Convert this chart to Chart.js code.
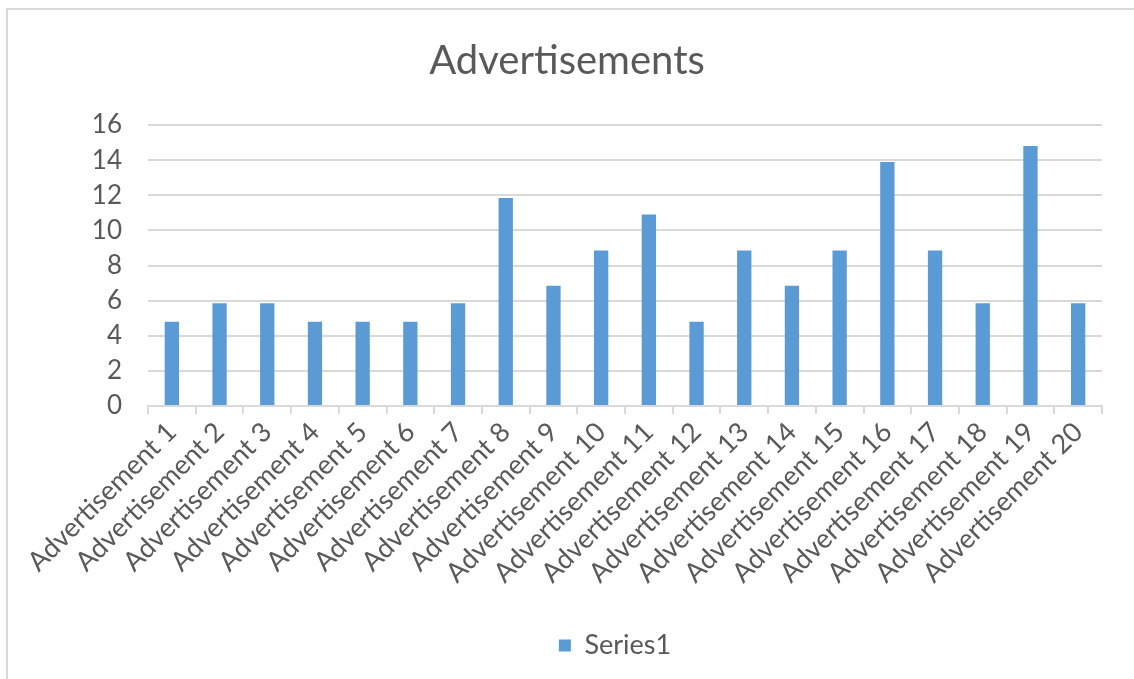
<!DOCTYPE html>
<html>
<head>
<meta charset="utf-8">
<script src="https://cdn.jsdelivr.net/npm/chart.js@4.4.1/dist/chart.umd.min.js"></script>
<style>
  html, body { margin: 0; padding: 0; background: #fff; overflow: hidden; }
  #frame { position: absolute; left: 6px; top: 8px; width: 2000px; height: 2000px;
           border-top: 2px solid #d9d9d9; border-left: 2px solid #d9d9d9; }
  #adsChart { position: absolute; left: 0; top: 0; }
</style>
</head>
<body>
<div id="frame"></div>
<canvas id="adsChart" width="1134" height="679"></canvas>
<script>
// datos
const categories = [
  'Advertisement 1', 'Advertisement 2', 'Advertisement 3', 'Advertisement 4',
  'Advertisement 5', 'Advertisement 6', 'Advertisement 7', 'Advertisement 8',
  'Advertisement 9', 'Advertisement 10', 'Advertisement 11', 'Advertisement 12',
  'Advertisement 13', 'Advertisement 14', 'Advertisement 15', 'Advertisement 16',
  'Advertisement 17', 'Advertisement 18', 'Advertisement 19', 'Advertisement 20'
];
const series1 = [4.8, 5.85, 5.85, 4.8, 4.8, 4.8, 5.85, 11.85, 6.85, 8.85,
                 10.9, 4.8, 8.85, 6.85, 8.85, 13.9, 8.85, 5.85, 14.8, 5.85];
const yMin = 0, yMax = 16, yStep = 2;

const textColor = '#595959';
const gridColor = '#d9d9d9';
const fontFamily = 'Lato, "Open Sans", sans-serif';

// la leyenda de Excel queda un poco a la derecha del centro
const legendShift = {
  id: 'legendShift',
  afterLayout(chart) {
    const lg = chart.legend;
    if (lg) { lg.left += 48; lg.right += 48; }
  }
};

const ctx = document.getElementById('adsChart').getContext('2d');
new Chart(ctx, {
  type: 'bar',
  data: {
    labels: categories,
    datasets: [{
      label: 'Series1',
      data: series1,
      backgroundColor: '#5b9bd5',
      borderWidth: 0,
      barPercentage: 0.3,
      categoryPercentage: 1
    }]
  },
  options: {
    responsive: false,
    animation: false,
    layout: { padding: { left: 32, right: 32, top: 0, bottom: 10 } },
    plugins: {
      title: {
        display: true,
        text: 'Advertisements',
        color: textColor,
        font: { family: fontFamily, size: 40, weight: 'normal' },
        padding: { top: 37, bottom: 40 }
      },
      legend: {
        display: true,
        position: 'bottom',
        labels: {
          color: textColor,
          font: { family: fontFamily, size: 27 },
          boxWidth: 12,
          boxHeight: 12,
          padding: 8
        }
      },
      tooltip: { enabled: false }
    },
    scales: {
      y: {
        min: yMin,
        max: yMax,
        ticks: {
          stepSize: yStep,
          color: textColor,
          font: { family: fontFamily, size: 26 },
          padding: 26
        },
        grid: { color: gridColor, lineWidth: 2, drawTicks: false },
        border: { display: false },
        afterFit: (scale) => { scale.width = 116; }
      },
      x: {
        ticks: {
          color: textColor,
          font: { family: fontFamily, size: 27 },
          autoSkip: false,
          maxRotation: 45,
          minRotation: 45,
          padding: 2
        },
        grid: {
          offset: true,
          drawOnChartArea: false,
          drawTicks: true,
          tickLength: 8,
          color: gridColor,
          lineWidth: 2
        },
        border: { display: true, color: gridColor, width: 2 },
        afterFit: (scale) => { scale.height = 218; }
      }
    }
  },
  plugins: [legendShift]
});
</script>
</body>
</html>
